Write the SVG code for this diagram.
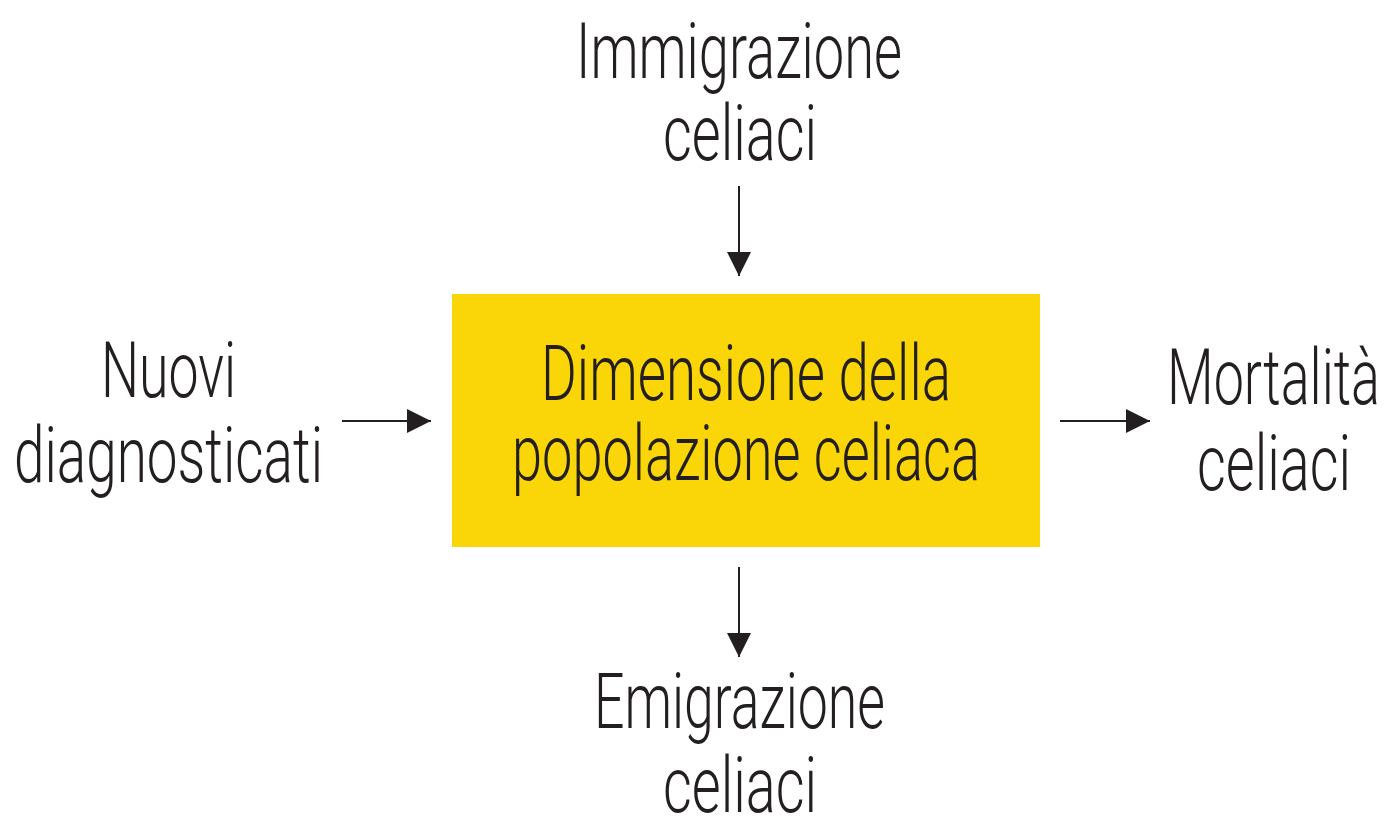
<svg xmlns="http://www.w3.org/2000/svg" width="1386" height="816" viewBox="0 0 1386 816">
<defs>
<style>
.t{font-family:Roboto,"Liberation Sans",sans-serif;font-weight:300;font-size:78px;fill:#231f20;text-anchor:start}
.c{stroke:#231f20;stroke-width:2;fill:none}
</style>
<marker id="ah" markerUnits="userSpaceOnUse" markerWidth="24" markerHeight="24" viewBox="0 0 22 22" refX="22" refY="11" orient="auto">
<path d="M0,0 L22,11 L0,22 Z" fill="#231f20"/>
</marker>
</defs>
<rect width="1386" height="816" fill="#ffffff"/>
<g id="box">
<rect x="452" y="294" width="588" height="253" fill="#fad507"/>
<text class="t" x="541" y="400" textLength="410" lengthAdjust="spacingAndGlyphs">Dimensione della</text>
<text class="t" x="512" y="480" textLength="468" lengthAdjust="spacingAndGlyphs">popolazione celiaca</text>
</g>
<g id="immigrazione">
<text class="t" x="576" y="78" textLength="326" lengthAdjust="spacingAndGlyphs">Immigrazione</text>
<text class="t" x="663" y="160" textLength="154" lengthAdjust="spacingAndGlyphs">celiaci</text>
</g>
<g id="nuovi">
<text class="t" x="101" y="397" textLength="135" lengthAdjust="spacingAndGlyphs">Nuovi</text>
<text class="t" x="14" y="482" textLength="309" lengthAdjust="spacingAndGlyphs">diagnosticati</text>
</g>
<g id="mortalita">
<text class="t" x="1167" y="404" textLength="213" lengthAdjust="spacingAndGlyphs">Mortalità</text>
<text class="t" x="1197" y="490" textLength="154" lengthAdjust="spacingAndGlyphs">celiaci</text>
</g>
<g id="emigrazione">
<text class="t" x="594" y="728" textLength="291" lengthAdjust="spacingAndGlyphs">Emigrazione</text>
<text class="t" x="663" y="812" textLength="154" lengthAdjust="spacingAndGlyphs">celiaci</text>
</g>
<g id="connectors">
<line class="c" x1="739" y1="186" x2="739" y2="276" marker-end="url(#ah)"/>
<line class="c" x1="342" y1="421" x2="431" y2="421" marker-end="url(#ah)"/>
<line class="c" x1="1060" y1="421" x2="1150" y2="421" marker-end="url(#ah)"/>
<line class="c" x1="739" y1="567" x2="739" y2="657" marker-end="url(#ah)"/>
</g>
</svg>
